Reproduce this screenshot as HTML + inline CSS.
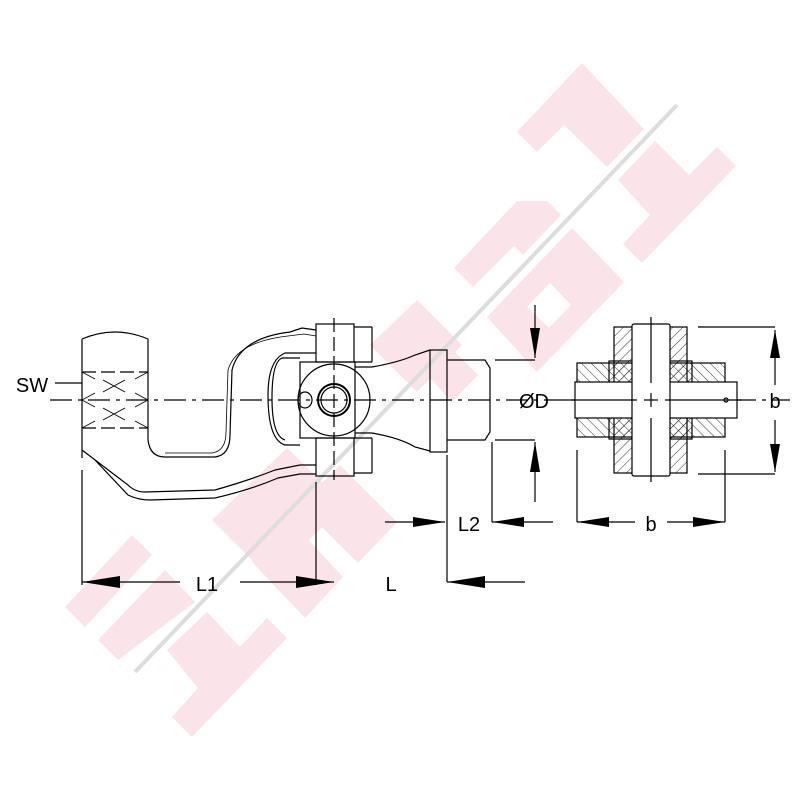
<!DOCTYPE html>
<html><head><meta charset="utf-8"><style>body{margin:0;background:#fff}svg{display:block}</style></head><body>
<svg width="800" height="800" viewBox="0 0 800 800" xmlns="http://www.w3.org/2000/svg">
<defs>
<pattern id="h1" width="7" height="7" patternUnits="userSpaceOnUse" patternTransform="rotate(45)"><line x1="0" y1="0" x2="0" y2="7" stroke="#000" stroke-width="0.8"/></pattern>
<pattern id="h2" width="7" height="7" patternUnits="userSpaceOnUse" patternTransform="rotate(-45)"><line x1="0" y1="0" x2="0" y2="7" stroke="#000" stroke-width="0.8"/></pattern>
</defs>
<g fill="#fae4e9">
<polygon points="537,152 517,132 582,63 644,129 607,167 564,125"/>
<polygon points="618,180 655,141 689,175 717,147 736,166 642,263 623,244 650,215"/>
<polygon points="454,268 517,201 547,201 561,215 523,255 514,246 473,287"/>
<path d="M487,317 L572,228 L624,282 L537,372 Z M527,307 L549,328 L571,305 L550,283 Z" fill-rule="evenodd"/>
<polygon points="370,345 417,300 462,345 417,392"/>
<polygon points="425,372 450,347 478,375 452,402"/>
<polygon points="212,520 287,448 345,505 270,578"/>
<polygon points="300,505 340,465 397,522 358,563"/>
<polygon points="252,562 290,520 343,577 305,618"/>
<polygon points="65,607 132,535 152,555 85,627"/>
<polygon points="98,640 165,570 195,602 118,660"/>
<polygon points="167,650 207,612 240,647 267,618 287,638 192,737 172,717 198,688"/>
</g>
<line x1="135" y1="672" x2="677" y2="105" stroke="#ddd" stroke-width="4"/>
<g fill="none" stroke="#000" stroke-width="1.2">
<line x1="50" y1="400" x2="790" y2="400" stroke-dasharray="22,6,4,6"/>
<path d="M82,339 Q115,325 148,339"/>
<line x1="82" y1="339" x2="82" y2="458"/>
<line x1="148" y1="339" x2="148" y2="440"/>
<line x1="82" y1="372" x2="148" y2="372" stroke-dasharray="14,5"/>
<line x1="82" y1="428" x2="148" y2="428" stroke-dasharray="14,5"/>
<path d="M103,380 L125,392 M103,392 L125,380 M103,408 L125,420 M103,420 L125,408" stroke-width="0.9"/>
<path d="M82,400 L95,393 M82,400 L95,407 M148,400 L135,393 M148,400 L135,407 M82,428 L95,421 M148,428 L135,421 M82,372 L95,379 M148,372 L135,379" stroke-width="0.8"/>
<line x1="55" y1="383" x2="82" y2="383"/>
<path d="M148,440 Q150,457 165,457 L215,457 Q230,455 230,435 L232,370 Q240,338 290,332 L302,328 L316,330"/>
<path d="M165,453 L212,453 Q226,451 226,432 L228,370 Q236,342 288,336 L304,334 L316,336" stroke-width="0.8"/>
<path d="M316,353 L285,353 Q268,360 268,395 Q268,440 285,445 L300,445" />
<path d="M300,358 L282,358 Q272,362 272,398 Q272,436 285,440"/>
<path d="M82,450 L128,485 Q135,492 145,492 L215,490 Q250,480 275,470 L300,465 L316,465"/>
<path d="M95,460 L128,495 Q138,500 150,500 L215,498 Q250,490 278,478 L300,474 L316,474"/>
<rect x="316" y="324" width="38" height="38"/>
<line x1="354" y1="327" x2="372" y2="327"/><line x1="372" y1="327" x2="372" y2="362"/><line x1="354" y1="362" x2="372" y2="362"/>
<rect x="316" y="438" width="38" height="38"/>
<line x1="354" y1="438" x2="372" y2="438"/><line x1="372" y1="438" x2="372" y2="473"/><line x1="354" y1="473" x2="372" y2="473"/>
<rect x="300" y="362" width="55" height="76"/>
<circle cx="334" cy="400" r="36"/>
<circle cx="334" cy="400" r="16" stroke-width="2"/>
<circle cx="334" cy="400" r="13"/>
<ellipse cx="305" cy="400" rx="7" ry="8"/>
<line x1="334" y1="318" x2="334" y2="480" stroke-dasharray="14,5"/>
<line x1="316" y1="482" x2="316" y2="585"/>
<path d="M355,367 L372,367 Q400,362 415,355 L430,350"/>
<path d="M355,433 L372,433 Q400,438 415,447 L430,451"/>
<rect x="430" y="350" width="17" height="102"/>
<path d="M447,360 L485,360 L490,368 L490,432 L485,440 L447,440"/>
<line x1="82" y1="470" x2="82" y2="585"/>
<line x1="82" y1="582" x2="180" y2="582"/><line x1="240" y1="582" x2="334" y2="582"/>
<line x1="447" y1="455" x2="447" y2="582"/>
<line x1="447" y1="582" x2="525" y2="582"/>
<line x1="385" y1="522" x2="445" y2="522"/>
<line x1="492" y1="442" x2="492" y2="522"/>
<line x1="492" y1="522" x2="553" y2="522"/>
<line x1="535" y1="305" x2="535" y2="358"/>
<line x1="495" y1="360" x2="535" y2="360"/>
<line x1="495" y1="440" x2="535" y2="440"/>
<line x1="535" y1="442" x2="535" y2="502"/>
<rect x="614" y="327" width="73" height="146" fill="url(#h1)"/>
<rect x="577" y="363" width="148" height="74" fill="url(#h2)"/>
<rect x="609" y="361" width="83" height="78" fill="url(#h1)"/>
<rect x="575" y="382" width="162" height="36" fill="#fff"/>
<rect x="632" y="324" width="38" height="152" rx="2" fill="#fff"/>
<line x1="566" y1="400" x2="637" y2="400"/><line x1="665" y1="400" x2="742" y2="400"/>
<line x1="644" y1="400" x2="658" y2="400"/><line x1="651" y1="393" x2="651" y2="407"/>
<line x1="651" y1="317" x2="651" y2="383"/><line x1="651" y1="418" x2="651" y2="482"/>
<circle cx="726" cy="400" r="2"/>
<line x1="698" y1="327" x2="775" y2="327"/>
<line x1="698" y1="474" x2="775" y2="474"/>
<line x1="775" y1="330" x2="775" y2="385"/><line x1="775" y1="420" x2="775" y2="472"/>
<line x1="577" y1="450" x2="577" y2="522"/>
<line x1="725" y1="450" x2="725" y2="522"/>
<line x1="577" y1="522" x2="635" y2="522"/><line x1="667" y1="522" x2="725" y2="522"/>
</g>
<g fill="#000">
<polygon points="82,582 120,576 120,588"/>
<polygon points="334,582 296,576 296,588"/>
<polygon points="447,582 485,576 485,588"/>
<polygon points="445,522 413,517 413,527"/>
<polygon points="492,522 524,517 524,527"/>
<polygon points="535,358 530,328 540,328"/>
<polygon points="535,442 530,472 540,472"/>
<polygon points="775,330 770,358 780,358"/>
<polygon points="775,472 770,444 780,444"/>
<polygon points="577,522 609,517 609,527"/>
<polygon points="725,522 693,517 693,527"/>
</g>
<g font-family="Liberation Sans, sans-serif" font-size="20" fill="#000" text-anchor="middle">
<text x="32" y="392">SW</text>
<text x="207" y="591">L1</text>
<text x="391" y="591">L</text>
<text x="469" y="531">L2</text>
<text x="534" y="408">ØD</text>
<text x="775" y="408">b</text>
<text x="651" y="531">b</text>
</g>
</svg>
</body></html>
